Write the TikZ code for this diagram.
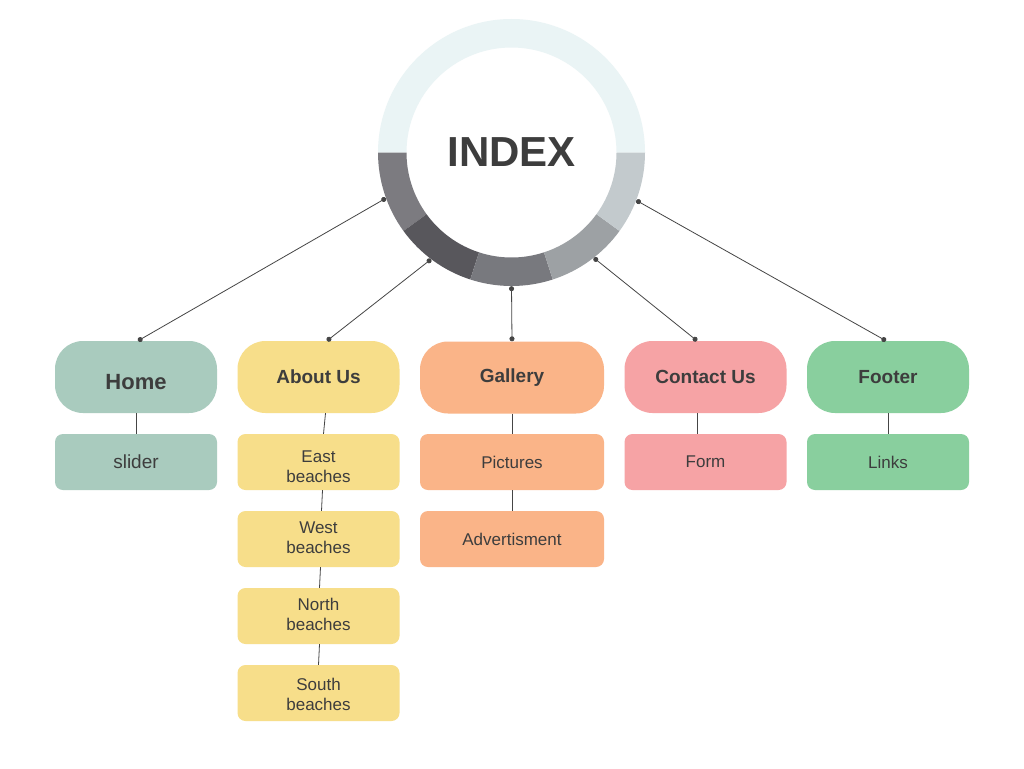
\documentclass[tikz,border=0pt]{standalone}
\usepackage{fontspec}
\setmainfont{Liberation Sans}
\usetikzlibrary{arrows.meta,calc}
\definecolor{ink}{HTML}{3D3D3D}
\definecolor{wire}{HTML}{454545}
\definecolor{ringtop}{HTML}{EAF4F5}
\definecolor{segA}{HTML}{7C7B80}
\definecolor{segB}{HTML}{58575C}
\definecolor{segC}{HTML}{78797E}
\definecolor{segD}{HTML}{9DA1A4}
\definecolor{segE}{HTML}{C3CACD}
\definecolor{homeC}{HTML}{A9CBBE}
\definecolor{aboutC}{HTML}{F7DE8A}
\definecolor{galleryC}{HTML}{FAB488}
\definecolor{contactC}{HTML}{F6A3A5}
\definecolor{footerC}{HTML}{89CF9E}
\tikzset{
  section/.style={rounded corners=28pt, minimum width=162pt, minimum height=72pt,
    inner sep=0pt, text=ink, font=\bfseries\fontsize{19}{22}\selectfont},
  page/.style={rounded corners=8pt, minimum width=162pt, minimum height=56pt,
    inner sep=0pt, text=ink, align=center, font=\fontsize{17}{20}\selectfont},
  link/.style={draw=wire, line width=0.8pt,
    {Circle[length=5pt,width=5pt]}-{Circle[length=5pt,width=5pt]}},
  stem/.style={draw=wire, line width=0.8pt}
}
% two centred lines, drawn lower by #1 without changing the box size
\newcommand{\twolines}[3]{\raisebox{-#1}[\height][\depth]{\begin{tabular}{@{}c@{}}#2\\#3\end{tabular}}}
\newcommand{\ringpart}[3]{%
  \fill[#3] ($(hub)+(#1:133.5)$) arc[start angle=#1, end angle=#2, radius=133.5]
    -- ($(hub)+(#2:105)$) arc[start angle=#2, end angle=#1, radius=105] -- cycle;}
\begin{document}
\begin{tikzpicture}[x=1pt,y=-1pt]
\useasboundingbox (0,0) rectangle (1024,768);
\fill[white] (0,0) rectangle (1024,768);
\coordinate (hub) at (511.5,152.5);
% ring around the index
\ringpart{180}{360}{ringtop}
\ringpart{144}{180}{segA}
\ringpart{108}{144}{segB}
\ringpart{72}{108}{segC}
\ringpart{36}{72}{segD}
\ringpart{0}{36}{segE}
\node (index) [circle, minimum size=267pt, inner sep=0pt, text=ink,
  font=\bfseries\fontsize{42}{48}\selectfont] at (hub) {INDEX};
% top-level sections
\node (home)    [section, fill=homeC, font=\bfseries\fontsize{22}{26}\selectfont] at (136,377) {\raisebox{-12pt}[0pt][0pt]{Home}};
\node (about)   [section, fill=aboutC]   at (318.5,377) {About Us};
\node (gallery) [section, fill=galleryC, minimum width=184pt] at (512,377.5) {Gallery};
\node (contact) [section, fill=contactC] at (705.5,377) {Contact Us};
\node (footer)  [section, fill=footerC]  at (888,377) {Footer};
% pages
\node (slider)  [page, fill=homeC, font=\fontsize{19}{22}\selectfont] at (136,462) {slider};
\node (east)    [page, fill=aboutC] at (318.5,462) {\twolines{6pt}{East}{beaches}};
\node (west)    [page, fill=aboutC] at (318.5,539) {\twolines{0pt}{West}{beaches}};
\node (north)   [page, fill=aboutC] at (318.5,616) {\twolines{0pt}{North}{beaches}};
\node (south)   [page, fill=aboutC] at (318.5,693) {\twolines{3pt}{South}{beaches}};
\node (pics)    [page, fill=galleryC, minimum width=184pt] at (512,462) {Pictures};
\node (ads)     [page, fill=galleryC, minimum width=184pt] at (512,539) {Advertisment};
\node (form)    [page, fill=contactC] at (705.5,462) {Form};
\node (links)   [page, fill=footerC]  at (888,462) {Links};
% links from the index to the sections
\draw[link] (index.200.6) -- ($(home.north)+(2,0)$);
\draw[link] (index.233) -- ($(about.north)+(8.5,0)$);
\draw[link] (index.270) -- (gallery.north);
\draw[link] (index.308.6) -- ($(contact.north)+(-8.5,0)$);
\draw[link] (index.339.7) -- ($(footer.north)+(-2,0)$);
% stems from sections to their pages
\draw[stem] (home.south) -- (slider.north);
\draw[stem] ($(about.south)+(7,0)$) -- ($(east.north)+(5,0)$);
\draw[stem] ($(east.south)+(4,0)$) -- ($(west.north)+(3,0)$);
\draw[stem] ($(west.south)+(2,0)$) -- ($(north.north)+(1,0)$);
\draw[stem] ($(north.south)+(1,0)$) -- ($(south.north)+(0,0)$);
\draw[stem] (gallery.south) -- (pics.north);
\draw[stem] (pics.south) -- (ads.north);
\draw[stem] ($(contact.south)+(-8.5,0)$) -- ($(form.north)+(-8.5,0)$);
\draw[stem] (footer.south) -- (links.north);
\end{tikzpicture}
\end{document}
